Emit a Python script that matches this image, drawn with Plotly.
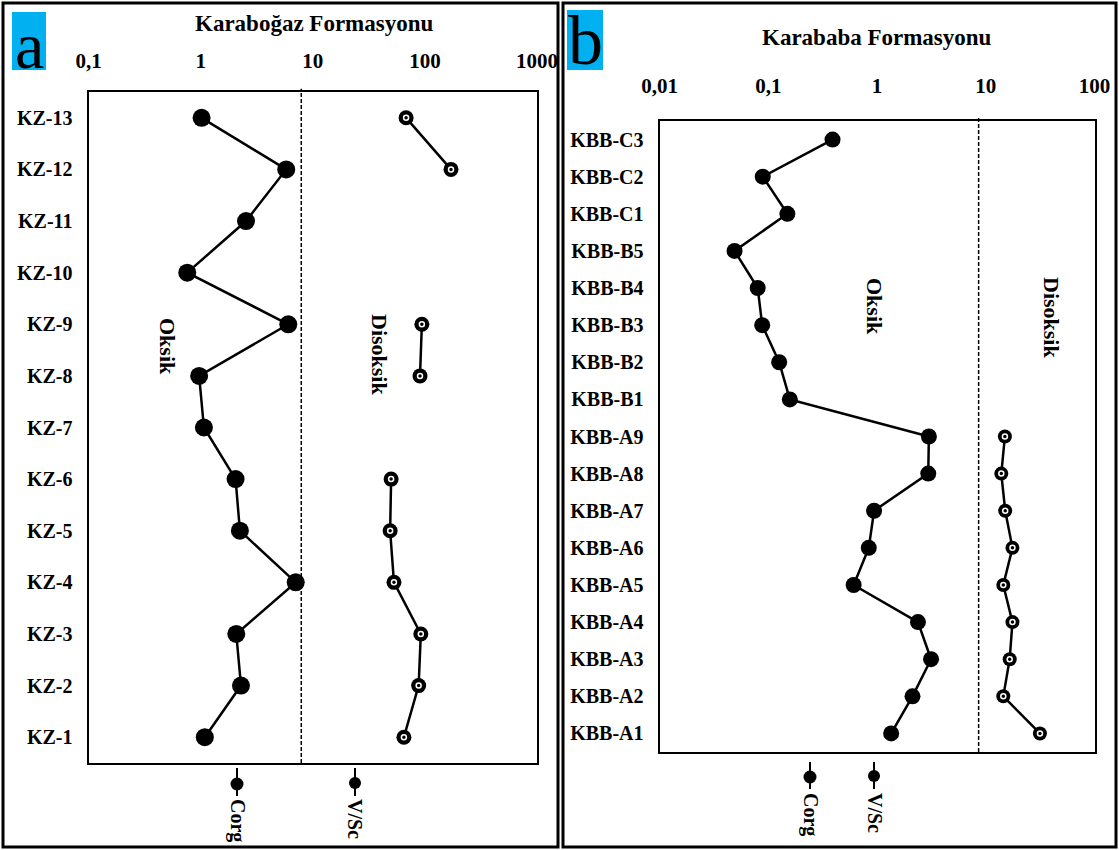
import plotly.graph_objects as go

W, H = 1119, 850

# ---- Karaboğaz Formasyonu ----
kz_samples = ["KZ-13", "KZ-12", "KZ-11", "KZ-10", "KZ-9", "KZ-8", "KZ-7",
              "KZ-6", "KZ-5", "KZ-4", "KZ-3", "KZ-2", "KZ-1"]
kz_corg = [1.02, 5.8, 2.54, 0.76, 6.05, 0.97, 1.07, 2.05, 2.24, 7.05, 2.08, 2.29, 1.09]
kz_vsc = [68, 171, None, None, 94, 90.5, None, 50, 49, 53, 92, 88, 65]
kz_limit = 7.9
kz_tickvals = [0.1, 1, 10, 100, 1000]
kz_ticktext = ["0,1", "1", "10", "100", "1000"]

# ---- Karababa Formasyonu ----
kbb_samples = ["KBB-C3", "KBB-C2", "KBB-C1", "KBB-B5", "KBB-B4", "KBB-B3", "KBB-B2",
               "KBB-B1", "KBB-A9", "KBB-A8", "KBB-A7", "KBB-A6", "KBB-A5", "KBB-A4",
               "KBB-A3", "KBB-A2", "KBB-A1"]
kbb_corg = [0.39, 0.089, 0.15, 0.049, 0.080, 0.088, 0.126, 0.158, 3.0, 2.96,
            0.94, 0.84, 0.61, 2.38, 3.14, 2.12, 1.35]
kbb_vsc = [None, None, None, None, None, None, None, None,
           15.0, 13.9, 15.1, 17.6, 14.5, 17.6, 16.6, 14.5, 31.5]
kbb_limit = 8.6
kbb_tickvals = [0.01, 0.1, 1, 10, 100]
kbb_ticktext = ["0,01", "0,1", "1", "10", "100"]

SERIF = "Liberation Serif"


def px(x):
    return x / W


def py(y):
    return 1 - y / H


fig = go.Figure()


def add_panel(xa, ya, samples, corg, vsc, corg_size, vsc_size):
    fig.add_trace(go.Scatter(
        x=corg, y=samples, xaxis=xa, yaxis=ya, mode="lines+markers",
        line=dict(color="black", width=2.5),
        marker=dict(color="black", size=corg_size, symbol="circle"),
        showlegend=False, name="Corg"))
    fig.add_trace(go.Scatter(
        x=vsc, y=samples, xaxis=xa, yaxis=ya, mode="lines+markers",
        connectgaps=False,
        line=dict(color="black", width=2.5),
        marker=dict(color="black", size=vsc_size, symbol="circle"),
        showlegend=False, name="V/Sc"))
    # small white ring inside the V/Sc markers
    fig.add_trace(go.Scatter(
        x=vsc, y=samples, xaxis=xa, yaxis=ya, mode="markers",
        marker=dict(color="white", size=5, symbol="circle-open",
                    line=dict(color="white", width=1.5)),
        showlegend=False, hoverinfo="skip"))


add_panel("x", "y", kz_samples, kz_corg, kz_vsc, 18, 15)
add_panel("x2", "y2", kbb_samples, kbb_corg, kbb_vsc, 16, 14)

axis_common = dict(showgrid=False, zeroline=False, showline=True, mirror=True,
                   linecolor="black", linewidth=2, ticks="", automargin=False)

fig.update_layout(
    width=W, height=H,
    margin=dict(l=0, r=0, t=0, b=0, pad=0),
    paper_bgcolor="white", plot_bgcolor="white",
    showlegend=False,
    xaxis=dict(**axis_common, type="log", range=[-1, 3], side="top",
               domain=[px(88.5), px(537)], anchor="y",
               tickvals=kz_tickvals, ticktext=kz_ticktext,
               tickfont=dict(family=SERIF, size=21, color="black", weight="bold"),
               ticklabelstandoff=14),
    yaxis=dict(**axis_common, type="category", categoryorder="array",
               categoryarray=kz_samples, range=[12.5, -0.5],
               domain=[py(763), py(92)], anchor="x",
               tickfont=dict(family=SERIF, size=20, color="black", weight="bold"),
               ticklabelstandoff=10),
    xaxis2=dict(**axis_common, type="log", range=[-2, 2], side="top",
                domain=[px(659.5), px(1094.5)], anchor="y2",
                tickvals=kbb_tickvals, ticktext=kbb_ticktext,
                tickfont=dict(family=SERIF, size=21, color="black", weight="bold"),
                ticklabelstandoff=18),
    yaxis2=dict(**axis_common, type="category", categoryorder="array",
                categoryarray=kbb_samples, range=[16.5, -0.5],
                domain=[py(752), py(121)], anchor="x2",
                tickfont=dict(family=SERIF, size=20, color="black", weight="bold"),
                ticklabelstandoff=10),
)

shapes = []
# panel frames
shapes.append(dict(type="rect", xref="paper", yref="paper",
                   x0=px(3), x1=px(558), y0=py(847), y1=py(3),
                   line=dict(color="black", width=3)))
shapes.append(dict(type="rect", xref="paper", yref="paper",
                   x0=px(563), x1=px(1116), y0=py(847), y1=py(3),
                   line=dict(color="black", width=3)))
# panel letter tiles
shapes.append(dict(type="rect", xref="paper", yref="paper",
                   x0=px(12), x1=px(46), y0=py(70), y1=py(12),
                   fillcolor="#00B0F0", line=dict(width=0)))
shapes.append(dict(type="rect", xref="paper", yref="paper",
                   x0=px(567), x1=px(603), y0=py(70), y1=py(10),
                   fillcolor="#00B0F0", line=dict(width=0)))
# oxic / dysoxic boundary
shapes.append(dict(type="line", xref="x", yref="y domain",
                   x0=kz_limit, x1=kz_limit, y0=0, y1=1.005,
                   line=dict(color="black", width=1.5, dash="4px,2px")))
shapes.append(dict(type="line", xref="x2", yref="y2 domain",
                   x0=kbb_limit, x1=kbb_limit, y0=0, y1=1.005,
                   line=dict(color="black", width=1.5, dash="4px,2px")))


# rotated legend glyphs
def legend_glyph(x, y0, y1, yc, r):
    shapes.append(dict(type="line", xref="paper", yref="paper",
                       x0=px(x), x1=px(x), y0=py(y1), y1=py(y0),
                       line=dict(color="black", width=2)))
    shapes.append(dict(type="circle", xref="paper", yref="paper",
                       x0=px(x - r), x1=px(x + r), y0=py(yc + r), y1=py(yc - r),
                       fillcolor="black", line=dict(color="black", width=0)))


legend_glyph(237, 768, 796, 784, 6.5)
legend_glyph(355, 768, 796, 783, 6)
legend_glyph(810, 762, 789, 777, 6.5)
legend_glyph(874, 762, 789, 776, 6)

annotations = []


def text(x, y, s, size, bold=True, angle=0):
    annotations.append(dict(
        xref="paper", yref="paper", x=px(x), y=py(y), text=s, showarrow=False,
        textangle=angle, xanchor="center", yanchor="middle",
        font=dict(family=SERIF, size=size, color="black",
                  weight="bold" if bold else "normal")))


text(314, 24, "Karaboğaz Formasyonu", 23)
text(877, 37, "Karababa Formasyonu", 23)
text(29, 45, "a", 66, bold=False)
text(585, 41, "b", 70, bold=False)
text(167, 346, "Oksik", 22, angle=90)
text(380, 354, "Disoksik", 22, angle=90)
text(875, 306, "Oksik", 22, angle=90)
text(1052, 317, "Disoksik", 22, angle=90)
text(238, 820, "Corg", 20, angle=90)
text(355, 819, "V/Sc", 20, angle=90)
text(811, 814, "Corg", 20, angle=90)
text(875, 813, "V/Sc", 20, angle=90)

fig.update_layout(shapes=shapes, annotations=annotations)

fig.write_html("out.html")
